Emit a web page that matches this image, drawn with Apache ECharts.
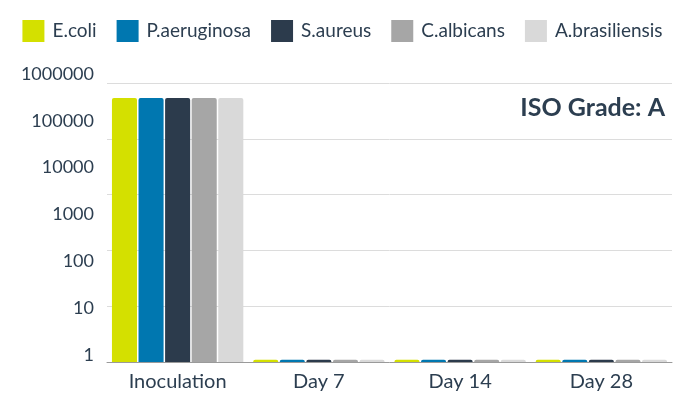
<!DOCTYPE html>
<html>
<head>
<meta charset="utf-8">
<script src="https://cdn.jsdelivr.net/npm/echarts@6/dist/echarts.min.js"></script>
<style>
  html, body { margin: 0; padding: 0; background: #fff; }
  #chart { width: 685px; height: 405px; }
</style>
</head>
<body>
<div id="chart"></div>
<script>
  // data
  var categories = ['Inoculation', 'Day 7', 'Day 14', 'Day 28']
  var seriesNames = ['E.coli', 'P.aeruginosa', 'S.aureus', 'C.albicans', 'A.brasiliensis']
  var ecoli = [54000, 1.1, 1.1, 1.1]
  var paeruginosa = [54000, 1.1, 1.1, 1.1]
  var saureus = [54000, 1.1, 1.1, 1.1]
  var calbicans = [54000, 1.1, 1.1, 1.1]
  var abrasiliensis = [54000, 1.1, 1.1, 1.1]
  var colors = ['#d4e000', '#0077b0', '#2c3b4c', '#a6a6a6', '#d9d9d9']
  var gradeText = 'ISO Grade: A'

  var chart = echarts.init(document.getElementById('chart'))
  var values = [ecoli, paeruginosa, saureus, calbicans, abrasiliensis]
  var textColor = '#2c3e50'
  var font = 'Lato'

  var series = seriesNames.map(function (name, i) {
    return {
      name: name,
      type: 'bar',
      xAxisIndex: 0,
      yAxisIndex: 0,
      barGap: '6%',
      barCategoryGap: '7%',
      itemStyle: { color: colors[i], borderRadius: [2, 2, 0, 0] },
      data: values[i]
    }
  })

  var option = {
    animation: false,
    color: colors,
    legend: {
      top: 15,
      left: 'center',
      itemWidth: 22,
      itemHeight: 22,
      itemGap: 20,
      icon: 'rect',
      textStyle: { fontFamily: font, fontSize: 19, color: textColor, padding: [0, 0, 0, 3] },
      data: seriesNames
    },
    title: {
      text: gradeText,
      right: 15,
      top: 90,
      textStyle: { fontFamily: font, fontSize: 25, fontWeight: 'bold', color: textColor }
    },
    grid: [
      { left: 107, right: 13, top: 83, bottom: 43 },
      { left: 107, right: 13, top: 74, bottom: 50 }
    ],
    xAxis: [
      {
        type: 'category',
        gridIndex: 0,
        data: categories,
        axisTick: { show: false },
        axisLine: { lineStyle: { color: '#9a9a9a' } },
        axisLabel: { fontFamily: font, fontSize: 20, color: textColor, margin: 10 }
      },
      { type: 'category', gridIndex: 1, data: categories, show: false }
    ],
    yAxis: [
      {
        type: 'log',
        gridIndex: 0,
        logBase: 10,
        min: 1,
        max: 100000,
        axisLabel: { show: false },
        axisLine: { show: false },
        axisTick: { show: false },
        splitLine: { lineStyle: { color: '#dcdcdc' } }
      },
      {
        type: 'log',
        gridIndex: 1,
        logBase: 10,
        min: 1,
        max: 1000000,
        axisLine: { show: false },
        axisTick: { show: false },
        splitLine: { show: false },
        axisLabel: {
          fontFamily: font, fontSize: 18, color: textColor, margin: 13,
          formatter: function (v) { return String(Math.round(v)) }
        }
      }
    ],
    series: series
  }
  chart.setOption(option)
</script>
</body>
</html>
